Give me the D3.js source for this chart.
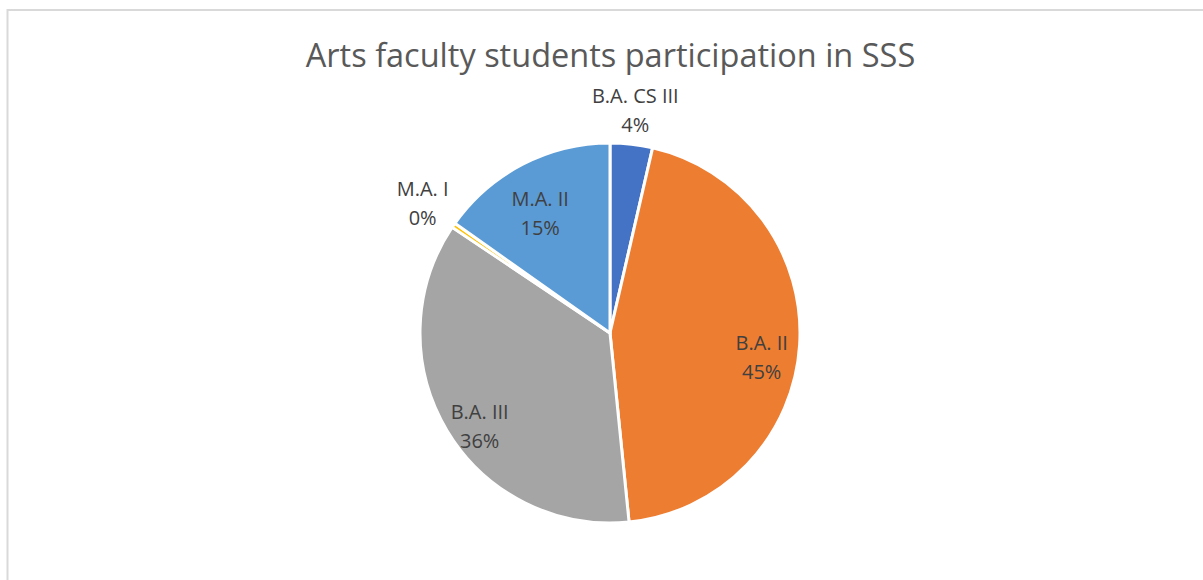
<!DOCTYPE html>
<html>
<head>
<meta charset="utf-8">
<script src="https://cdn.jsdelivr.net/npm/d3@7"></script>
<style>
  html, body { margin: 0; padding: 0; background: #fff; }
  svg { display: block; }
</style>
</head>
<body>
<svg id="chart" width="1203" height="580"></svg>
<script>
// data (student counts, shown as percent of total)
var categories = ["B.A. CS III", "B.A. II", "B.A. III", "M.A. I", "M.A. II"];
var students = [9, 112, 90, 1, 38];
var sliceColors = ["#4472C4", "#ED7D31", "#A5A5A5", "#FFC000", "#5B9BD5"];
var outsideLabels = ["B.A. CS III", "M.A. I"];

var titleText = "Arts faculty students participation in SSS";

var svg = d3.select("#chart");
var w = +svg.attr("width");
var h = +svg.attr("height");

// chart area frame
svg.append("rect")
    .attr("x", 7.5)
    .attr("y", 10)
    .attr("width", w + 20)
    .attr("height", h + 20)
    .style("fill", "#fff")
    .style("stroke", "#d9d9d9")
    .style("stroke-width", 2);

svg.append("text")
    .attr("x", 610.5)
    .attr("y", 67)
    .attr("text-anchor", "middle")
    .style("font-family", "'Open Sans', sans-serif")
    .style("font-size", "32.5px")
    .style("fill", "#595959")
    .text(titleText);

var cx = 610, cy = 333, r = 190;

var table = categories.map(function(c, i) {
    return {name: c, value: students[i], color: sliceColors[i]};
});
var total = d3.sum(students);

var pie = d3.pie()
    .sort(null)
    .value(function(d) { return d.value; });

var arc = d3.arc()
    .innerRadius(0)
    .outerRadius(r);

var labelArc = d3.arc()
    .innerRadius(152)
    .outerRadius(152);

var g = svg.append("g")
    .attr("transform", "translate(" + cx + "," + cy + ")");

var arcs = pie(table);

g.selectAll("path")
    .data(arcs)
    .enter()
    .append("path")
    .attr("d", arc)
    .style("fill", function(d) { return d.data.color; })
    .style("stroke", "#fff")
    .style("stroke-width", 3)
    .style("stroke-linejoin", "round");

var pct = d3.format(".0%");
var lineGap = 29;

var labels = g.selectAll("g.lbl")
    .data(arcs)
    .enter()
    .append("g")
    .attr("class", "lbl");

labels.each(function(d) {
    var lg = d3.select(this);
    var t = lg.append("text")
        .attr("text-anchor", "middle")
        .style("font-family", "'Open Sans', sans-serif")
        .style("font-size", "20px")
        .style("fill", "#404040");
    t.append("tspan").attr("x", 0).attr("y", -lineGap / 2 + 7).text(d.data.name);
    t.append("tspan").attr("x", 0).attr("y", lineGap / 2 + 7).text(pct(d.data.value / total));

    var pos;
    if (outsideLabels.indexOf(d.data.name) >= 0) {
        // put the label box just outside the rim, along the mid angle
        var bb = t.node().getBBox();
        var a = (d.startAngle + d.endAngle) / 2;
        var sx = Math.sin(a), sy = -Math.cos(a);
        var hw = bb.width / 2, hh = bb.height / 2;
        var ext = Math.min(hw / Math.max(Math.abs(sx), 1e-6), hh / Math.max(Math.abs(sy), 1e-6));
        var dist = r + 6 + ext;
        pos = [sx * dist, sy * dist];
    } else {
        pos = labelArc.centroid(d);
        pos[1] += 15;
    }
    lg.attr("transform", "translate(" + pos[0] + "," + pos[1] + ")");
});
</script>
</body>
</html>
